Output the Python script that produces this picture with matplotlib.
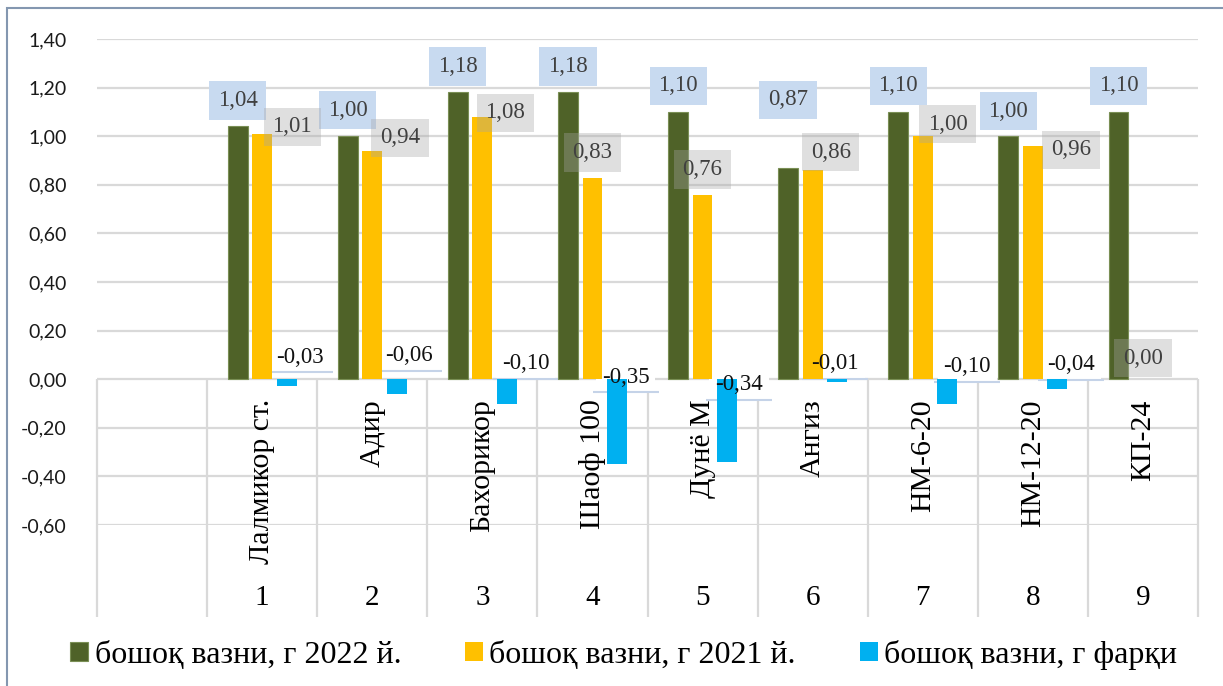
import numpy as np
import matplotlib.pyplot as plt

# data
varieties = ['Лалмикор ст.', 'Адир', 'Бахорикор', 'Шаоф 100', 'Дунё М',
             'Ангиз', 'НМ-6-20', 'НМ-12-20', 'КП-24']
numbers = ['1', '2', '3', '4', '5', '6', '7', '8', '9']
weight_2022 = [1.04, 1.00, 1.18, 1.18, 1.10, 0.87, 1.10, 1.00, 1.10]
weight_2021 = [1.01, 0.94, 1.08, 0.83, 0.76, 0.86, 1.00, 0.96, 0.00]
weight_diff = [-0.03, -0.06, -0.10, -0.35, -0.34, -0.01, -0.10, -0.04, np.nan]
series_names = ['бошоқ вазни, г 2022 й.', 'бошоқ вазни, г 2021 й.', 'бошоқ вазни, г фарқи']

# label offsets in pixels (labels were moved by hand in the original)
green_dy = [26, 26, 26, 26, 26, 68, 26, 25, 26]
yellow_off = [(30, 7), (28, 13), (23, 4), (0, 25), (0, 25), (18, 18), (25, 12), (38, -4), (0, 21)]
blue_off = [(13, 29), (12, 38), (19, 40), (9, 87), (12, 77), (-2, 18), (20, 37), (14, 24)]

c_green = '#4F6228'
c_yellow = '#FFC000'
c_blue = '#00B0F0'
serif = 'Liberation Serif'

W, H = 1223, 686
fig = plt.figure(figsize=(W / 100, H / 100), dpi=100)
ax_left, ax_right, ax_top, ax_bot = 97, 1198, 39, 525
ax = fig.add_axes([ax_left / W, 1 - ax_bot / H, (ax_right - ax_left) / W, (ax_bot - ax_top) / H])

# outer frame of the chart
fig.patches.append(plt.Rectangle((7 / W, -0.01), 1.02, 1 - 8 / H + 0.01, transform=fig.transFigure,
                                 fill=False, edgecolor='#8497B0', linewidth=1.5))

x = np.arange(1, len(varieties) + 1)
bw = 0.18
step = 0.222
ax.bar(x - step, weight_2022, bw, color=c_green, edgecolor='#7A8F55', linewidth=0.8, zorder=3,
       label=series_names[0])
ax.bar(x, weight_2021, bw, color=c_yellow, zorder=3, label=series_names[1])
ax.bar(x + step, weight_diff, bw, color=c_blue, zorder=3, label=series_names[2])

ax.set_xlim(-0.5, 9.5)
ax.set_ylim(-0.6, 1.4)
yt = np.arange(-0.6, 1.41, 0.2)
ax.set_yticks(yt)
ax.set_yticklabels([f'{v:.2f}'.replace('.', ',').replace('-0,00', '0,00') for v in yt],
                   fontsize=14, family='Lato', color='#1a1a1a')
ax.tick_params(axis='y', length=0, pad=22)
ax.set_xticks([])
ax.grid(axis='y', color='#D9D9D9', linewidth=1.6, zorder=0)
for s in ax.spines.values():
    s.set_visible(False)

px_x = (ax_right - ax_left) / 10.0
px_y = (ax_bot - ax_top) / 2.0

# category axis table lines
bottom_y = -0.6 - (617 - ax_bot) / px_y
ax.vlines(np.arange(-0.5, 10, 1.0), bottom_y, 0, color='#D9D9D9', linewidth=1.6,
          clip_on=False, zorder=1)

name_y = -(399 - 379) / px_y
num_y = -(598 - 379) / px_y
for xi, name, num in zip(x, varieties, numbers):
    ax.text(xi, name_y, name, rotation=90, ha='center', va='top', fontsize=21.5, family=serif)
    ax.text(xi, num_y, num, ha='center', va='center', fontsize=21, family=serif)

def fmt(v):
    return f'{v:.2f}'.replace('.', ',')

for xi, v, dy in zip(x, weight_2022, green_dy):
    ax.annotate(fmt(v), (xi - step, v), xytext=(0, dy), textcoords='offset pixels',
                ha='center', va='center', fontsize=16.5, family=serif, color='#404040', zorder=5,
                bbox=dict(boxstyle='square,pad=0.38', facecolor='#C8DAF0', edgecolor='none'))

for xi, v, (dx, dy) in zip(x, weight_2021, yellow_off):
    ax.annotate(fmt(v), (xi, v), xytext=(dx, dy), textcoords='offset pixels',
                ha='center', va='center', fontsize=16.5, family=serif, color='#404040', zorder=5,
                bbox=dict(boxstyle='square,pad=0.38', facecolor=(0.65, 0.65, 0.65, 0.35),
                          edgecolor='none'))

for xi, v, (dx, dy) in zip(x, weight_diff, blue_off):
    # white box sits behind the bars, the text itself on top
    ax.annotate(fmt(v), (xi + step, v), xytext=(dx, dy), textcoords='offset pixels',
                ha='center', va='center', fontsize=16.5, family=serif, color='none', zorder=2.5,
                bbox=dict(boxstyle='square,pad=0.25', facecolor='white', edgecolor='none'))
    ax.annotate(fmt(v), (xi + step, v), xytext=(dx, dy), textcoords='offset pixels',
                ha='center', va='center', fontsize=16.5, family=serif, color='#111111', zorder=5)
    lx = xi + step + dx / px_x
    ly = v + (dy - 15) / px_y
    ax.hlines(ly, lx - 33 / px_x, lx + 33 / px_x, color='#C5D3E8', linewidth=1.5, zorder=2.6)

fig.legend(loc='center', bbox_to_anchor=(0.51, 1 - 655 / H), ncol=3, frameon=False,
           prop={'family': serif, 'size': 23}, handlelength=0.56, handleheight=0.56,
           handletextpad=0.2, columnspacing=2.0, borderaxespad=0)

fig.savefig('out.png', dpi=100)
